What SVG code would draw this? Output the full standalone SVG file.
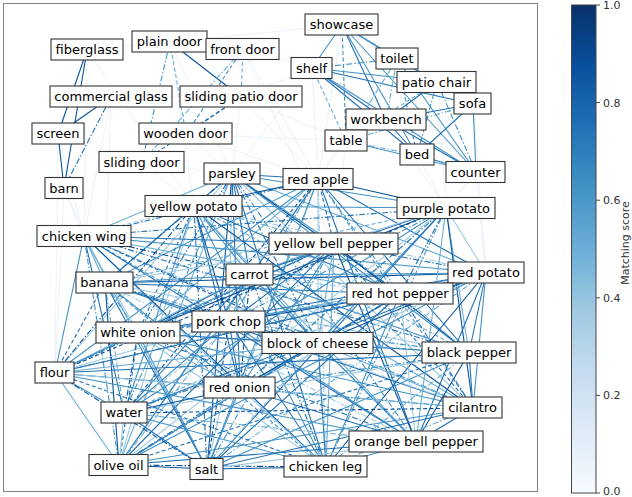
<svg xmlns="http://www.w3.org/2000/svg" width="632" height="497" viewBox="0 0 632 497">
<style>
.cn line{fill:none;stroke-width:1.1}
.a{stroke:#9ecae1}.b{stroke:#6baed6}.c{stroke:#4292c6}.d{stroke:#2171b5}.e{stroke:#08519c}
.dd{stroke-dasharray:6 2 1.5 2}.ds{stroke-dasharray:4 2.5}
.cn line.f{stroke:#c6dbef;stroke-width:.8;opacity:.45}
.nd rect{fill:#fff;stroke:#333;stroke-width:1.1}
.nd text{font-family:"DejaVu Sans",sans-serif;font-size:13px;fill:#000;text-anchor:middle}
.tk{font-family:"DejaVu Sans",sans-serif;font-size:11px;fill:#333}
</style>
<defs>
<linearGradient id="cb" x1="0" y1="1" x2="0" y2="0">
<stop offset="0" stop-color="#f7fbff"/><stop offset=".125" stop-color="#deebf7"/><stop offset=".25" stop-color="#c6dbef"/><stop offset=".375" stop-color="#9ecae1"/><stop offset=".5" stop-color="#6baed6"/><stop offset=".625" stop-color="#4292c6"/><stop offset=".75" stop-color="#2171b5"/><stop offset=".875" stop-color="#08519c"/><stop offset="1" stop-color="#08306b"/>
</linearGradient>
</defs>
<rect x="0" y="0" width="632" height="497" fill="#fff"/>
<rect x="3.5" y="3.5" width="534" height="488" fill="none" stroke="#808080" stroke-width="1"/>
<g id="connectors" class="cn">
<line class="f" x1="87" y1="50" x2="84" y2="236"/><line class="f" x1="87" y1="50" x2="194" y2="206"/><line class="f" x1="111" y1="97" x2="84" y2="236"/><line class="f" x1="111" y1="97" x2="105" y2="283"/><line class="f" x1="58" y1="134" x2="84" y2="236"/><line class="f" x1="58" y1="134" x2="55" y2="373"/><line class="f" x1="64" y1="188" x2="84" y2="236"/><line class="f" x1="64" y1="188" x2="105" y2="283"/><line class="f" x1="64" y1="188" x2="55" y2="373"/><line class="f" x1="142" y1="162" x2="194" y2="206"/><line class="f" x1="142" y1="162" x2="232" y2="174"/><line class="f" x1="186" y1="134" x2="232" y2="174"/><line class="f" x1="186" y1="134" x2="318" y2="179"/><line class="f" x1="241" y1="97" x2="318" y2="179"/><line class="f" x1="241" y1="97" x2="232" y2="174"/><line class="f" x1="243" y1="49" x2="318" y2="179"/><line class="f" x1="243" y1="49" x2="334" y2="244"/><line class="f" x1="170" y1="42" x2="194" y2="206"/><line class="f" x1="170" y1="42" x2="232" y2="174"/><line class="f" x1="342" y1="25" x2="318" y2="179"/><line class="f" x1="312" y1="68" x2="318" y2="179"/><line class="f" x1="312" y1="68" x2="232" y2="174"/><line class="f" x1="346" y1="141" x2="318" y2="179"/><line class="f" x1="346" y1="141" x2="334" y2="244"/><line class="f" x1="386" y1="120" x2="446" y2="208"/><line class="f" x1="417" y1="155" x2="446" y2="208"/><line class="f" x1="476" y1="172" x2="446" y2="208"/><line class="f" x1="476" y1="172" x2="486" y2="273"/><line class="f" x1="473" y1="104" x2="486" y2="273"/><line class="f" x1="437" y1="82" x2="446" y2="208"/><line class="f" x1="397" y1="59" x2="318" y2="179"/><line class="f" x1="243" y1="49" x2="312" y2="68"/><line class="f" x1="170" y1="42" x2="342" y2="25"/><line class="f" x1="241" y1="97" x2="346" y2="141"/><line class="f" x1="241" y1="97" x2="312" y2="68"/><line class="f" x1="87" y1="50" x2="170" y2="42"/><line class="f" x1="111" y1="97" x2="241" y2="97"/><line class="f" x1="186" y1="134" x2="346" y2="141"/>
<line class="e" x1="87" y1="50" x2="58" y2="134"/><line class="e" x1="87" y1="50" x2="64" y2="188"/><line class="e" x1="111" y1="97" x2="58" y2="134"/><line class="d dd" x1="111" y1="97" x2="64" y2="188"/><line class="e" x1="58" y1="134" x2="64" y2="188"/><line class="c dd" x1="170" y1="42" x2="142" y2="162"/><line class="e" x1="170" y1="42" x2="241" y2="97"/><line class="b ds" x1="170" y1="42" x2="186" y2="134"/><line class="c ds" x1="243" y1="49" x2="186" y2="134"/><line class="b dd" x1="243" y1="49" x2="142" y2="162"/><line class="b ds" x1="243" y1="49" x2="241" y2="97"/><line class="d ds" x1="241" y1="97" x2="186" y2="134"/><line class="d ds" x1="241" y1="97" x2="142" y2="162"/>
<line class="c" x1="342" y1="25" x2="312" y2="68"/><line class="c" x1="342" y1="25" x2="397" y2="59"/><line class="b dd" x1="342" y1="25" x2="437" y2="82"/><line class="c" x1="342" y1="25" x2="473" y2="104"/><line class="d" x1="342" y1="25" x2="386" y2="120"/><line class="c ds" x1="342" y1="25" x2="346" y2="141"/><line class="c" x1="342" y1="25" x2="417" y2="155"/><line class="c" x1="342" y1="25" x2="476" y2="172"/>
<line class="c dd" x1="312" y1="68" x2="397" y2="59"/><line class="c" x1="312" y1="68" x2="437" y2="82"/><line class="d" x1="312" y1="68" x2="473" y2="104"/><line class="d" x1="312" y1="68" x2="386" y2="120"/><line class="b ds" x1="312" y1="68" x2="346" y2="141"/><line class="d" x1="312" y1="68" x2="417" y2="155"/><line class="c" x1="312" y1="68" x2="476" y2="172"/>
<line class="c" x1="397" y1="59" x2="437" y2="82"/><line class="c dd" x1="397" y1="59" x2="473" y2="104"/><line class="b dd" x1="397" y1="59" x2="386" y2="120"/><line class="b dd" x1="397" y1="59" x2="346" y2="141"/><line class="c ds" x1="397" y1="59" x2="417" y2="155"/><line class="c" x1="397" y1="59" x2="476" y2="172"/>
<line class="c" x1="437" y1="82" x2="473" y2="104"/><line class="d" x1="437" y1="82" x2="386" y2="120"/><line class="b ds" x1="437" y1="82" x2="346" y2="141"/><line class="c dd" x1="437" y1="82" x2="417" y2="155"/><line class="c dd" x1="437" y1="82" x2="476" y2="172"/>
<line class="d" x1="473" y1="104" x2="386" y2="120"/><line class="b dd" x1="473" y1="104" x2="346" y2="141"/><line class="d" x1="473" y1="104" x2="417" y2="155"/><line class="c" x1="473" y1="104" x2="476" y2="172"/>
<line class="c dd" x1="386" y1="120" x2="346" y2="141"/><line class="d" x1="386" y1="120" x2="417" y2="155"/><line class="d" x1="386" y1="120" x2="476" y2="172"/>
<line class="b dd" x1="346" y1="141" x2="417" y2="155"/><line class="c" x1="346" y1="141" x2="476" y2="172"/><line class="d" x1="417" y1="155" x2="476" y2="172"/>
<line class="d" x1="232" y1="174" x2="318" y2="179"/><line class="c" x1="232" y1="174" x2="194" y2="206"/><line class="b" x1="232" y1="174" x2="84" y2="236"/><line class="e dd" x1="232" y1="174" x2="105" y2="283"/><line class="d" x1="232" y1="174" x2="250" y2="275"/><line class="c" x1="232" y1="174" x2="334" y2="244"/><line class="a" x1="232" y1="174" x2="229" y2="322"/><line class="d dd" x1="232" y1="174" x2="138" y2="333"/><line class="c" x1="232" y1="174" x2="446" y2="208"/><line class="b" x1="232" y1="174" x2="486" y2="273"/><line class="e" x1="232" y1="174" x2="400" y2="294"/><line class="d dd" x1="232" y1="174" x2="318" y2="343"/><line class="c" x1="232" y1="174" x2="469" y2="353"/><line class="a" x1="232" y1="174" x2="55" y2="373"/><line class="d" x1="232" y1="174" x2="240" y2="388"/><line class="c dd" x1="232" y1="174" x2="124" y2="413"/><line class="b" x1="232" y1="174" x2="119" y2="465"/><line class="e" x1="232" y1="174" x2="207" y2="469"/><line class="d" x1="232" y1="174" x2="326" y2="467"/><line class="c dd" x1="232" y1="174" x2="416" y2="442"/><line class="a" x1="232" y1="174" x2="473" y2="408"/>
<line class="e" x1="318" y1="179" x2="194" y2="206"/><line class="d dd" x1="318" y1="179" x2="84" y2="236"/><line class="c" x1="318" y1="179" x2="105" y2="283"/><line class="a" x1="318" y1="179" x2="250" y2="275"/><line class="d ds" x1="318" y1="179" x2="334" y2="244"/><line class="c dd" x1="318" y1="179" x2="229" y2="322"/><line class="b" x1="318" y1="179" x2="138" y2="333"/><line class="e" x1="318" y1="179" x2="446" y2="208"/><line class="d" x1="318" y1="179" x2="486" y2="273"/><line class="c dd" x1="318" y1="179" x2="400" y2="294"/><line class="a" x1="318" y1="179" x2="318" y2="343"/><line class="d" x1="318" y1="179" x2="469" y2="353"/><line class="c" x1="318" y1="179" x2="55" y2="373"/><line class="b dd" x1="318" y1="179" x2="240" y2="388"/><line class="e ds" x1="318" y1="179" x2="124" y2="413"/><line class="d" x1="318" y1="179" x2="119" y2="465"/><line class="c" x1="318" y1="179" x2="207" y2="469"/><line class="a dd" x1="318" y1="179" x2="326" y2="467"/><line class="d" x1="318" y1="179" x2="416" y2="442"/><line class="c ds" x1="318" y1="179" x2="473" y2="408"/>
<line class="a ds" x1="194" y1="206" x2="84" y2="236"/><line class="d" x1="194" y1="206" x2="105" y2="283"/><line class="c" x1="194" y1="206" x2="250" y2="275"/><line class="b dd" x1="194" y1="206" x2="334" y2="244"/><line class="e" x1="194" y1="206" x2="229" y2="322"/><line class="d ds" x1="194" y1="206" x2="138" y2="333"/><line class="c" x1="194" y1="206" x2="446" y2="208"/><line class="a dd" x1="194" y1="206" x2="486" y2="273"/><line class="d" x1="194" y1="206" x2="400" y2="294"/><line class="c" x1="194" y1="206" x2="318" y2="343"/><line class="b ds" x1="194" y1="206" x2="469" y2="353"/><line class="e dd" x1="194" y1="206" x2="55" y2="373"/><line class="d" x1="194" y1="206" x2="240" y2="388"/><line class="c" x1="194" y1="206" x2="124" y2="413"/><line class="a" x1="194" y1="206" x2="119" y2="465"/><line class="d dd" x1="194" y1="206" x2="207" y2="469"/><line class="c" x1="194" y1="206" x2="326" y2="467"/><line class="b" x1="194" y1="206" x2="416" y2="442"/><line class="e" x1="194" y1="206" x2="473" y2="408"/>
<line class="b" x1="84" y1="236" x2="105" y2="283"/><line class="e dd" x1="84" y1="236" x2="250" y2="275"/><line class="d" x1="84" y1="236" x2="334" y2="244"/><line class="c ds" x1="84" y1="236" x2="229" y2="322"/><line class="a" x1="84" y1="236" x2="138" y2="333"/><line class="d dd" x1="84" y1="236" x2="446" y2="208"/><line class="c" x1="84" y1="236" x2="486" y2="273"/><line class="b" x1="84" y1="236" x2="400" y2="294"/><line class="e ds" x1="84" y1="236" x2="318" y2="343"/><line class="d dd" x1="84" y1="236" x2="469" y2="353"/><line class="c" x1="84" y1="236" x2="55" y2="373"/><line class="a" x1="84" y1="236" x2="240" y2="388"/><line class="d" x1="84" y1="236" x2="124" y2="413"/><line class="c dd" x1="84" y1="236" x2="119" y2="465"/><line class="b" x1="84" y1="236" x2="207" y2="469"/><line class="e" x1="84" y1="236" x2="326" y2="467"/><line class="d" x1="84" y1="236" x2="416" y2="442"/><line class="c dd" x1="84" y1="236" x2="473" y2="408"/>
<line class="c" x1="105" y1="283" x2="250" y2="275"/><line class="a" x1="105" y1="283" x2="334" y2="244"/><line class="d" x1="105" y1="283" x2="229" y2="322"/><line class="c dd" x1="105" y1="283" x2="138" y2="333"/><line class="b ds" x1="105" y1="283" x2="446" y2="208"/><line class="e" x1="105" y1="283" x2="486" y2="273"/><line class="d" x1="105" y1="283" x2="400" y2="294"/><line class="c dd" x1="105" y1="283" x2="318" y2="343"/><line class="a" x1="105" y1="283" x2="469" y2="353"/><line class="d ds" x1="105" y1="283" x2="55" y2="373"/><line class="c" x1="105" y1="283" x2="240" y2="388"/><line class="b dd" x1="105" y1="283" x2="124" y2="413"/><line class="e" x1="105" y1="283" x2="119" y2="465"/><line class="d" x1="105" y1="283" x2="207" y2="469"/><line class="c ds" x1="105" y1="283" x2="326" y2="467"/><line class="a dd" x1="105" y1="283" x2="416" y2="442"/><line class="d" x1="105" y1="283" x2="473" y2="408"/>
<line class="c" x1="250" y1="275" x2="334" y2="244"/><line class="b dd" x1="250" y1="275" x2="229" y2="322"/><line class="e" x1="250" y1="275" x2="138" y2="333"/><line class="d" x1="250" y1="275" x2="446" y2="208"/><line class="c" x1="250" y1="275" x2="486" y2="273"/><line class="a dd" x1="250" y1="275" x2="400" y2="294"/><line class="d" x1="250" y1="275" x2="318" y2="343"/><line class="c" x1="250" y1="275" x2="469" y2="353"/><line class="b" x1="250" y1="275" x2="55" y2="373"/><line class="e dd" x1="250" y1="275" x2="240" y2="388"/><line class="d" x1="250" y1="275" x2="124" y2="413"/><line class="c" x1="250" y1="275" x2="119" y2="465"/><line class="a" x1="250" y1="275" x2="207" y2="469"/><line class="d dd" x1="250" y1="275" x2="326" y2="467"/><line class="c" x1="250" y1="275" x2="416" y2="442"/><line class="b" x1="250" y1="275" x2="473" y2="408"/>
<line class="d" x1="334" y1="244" x2="229" y2="322"/><line class="c" x1="334" y1="244" x2="138" y2="333"/><line class="a" x1="334" y1="244" x2="446" y2="208"/><line class="d dd" x1="334" y1="244" x2="486" y2="273"/><line class="c ds" x1="334" y1="244" x2="400" y2="294"/><line class="b" x1="334" y1="244" x2="318" y2="343"/><line class="e" x1="334" y1="244" x2="469" y2="353"/><line class="d dd" x1="334" y1="244" x2="55" y2="373"/><line class="c" x1="334" y1="244" x2="240" y2="388"/><line class="a ds" x1="334" y1="244" x2="124" y2="413"/><line class="d" x1="334" y1="244" x2="119" y2="465"/><line class="c dd" x1="334" y1="244" x2="207" y2="469"/><line class="b" x1="334" y1="244" x2="326" y2="467"/><line class="e" x1="334" y1="244" x2="416" y2="442"/><line class="d ds" x1="334" y1="244" x2="473" y2="408"/>
<line class="d ds" x1="229" y1="322" x2="138" y2="333"/><line class="c dd" x1="229" y1="322" x2="446" y2="208"/><line class="b" x1="229" y1="322" x2="486" y2="273"/><line class="e" x1="229" y1="322" x2="400" y2="294"/><line class="d" x1="229" y1="322" x2="318" y2="343"/><line class="c dd" x1="229" y1="322" x2="469" y2="353"/><line class="a" x1="229" y1="322" x2="55" y2="373"/><line class="d" x1="229" y1="322" x2="240" y2="388"/><line class="c" x1="229" y1="322" x2="124" y2="413"/><line class="b dd" x1="229" y1="322" x2="119" y2="465"/><line class="e ds" x1="229" y1="322" x2="207" y2="469"/><line class="d" x1="229" y1="322" x2="326" y2="467"/><line class="c" x1="229" y1="322" x2="416" y2="442"/><line class="a dd" x1="229" y1="322" x2="473" y2="408"/>
<line class="e" x1="138" y1="333" x2="446" y2="208"/><line class="d" x1="138" y1="333" x2="486" y2="273"/><line class="c" x1="138" y1="333" x2="400" y2="294"/><line class="a dd" x1="138" y1="333" x2="318" y2="343"/><line class="d" x1="138" y1="333" x2="469" y2="353"/><line class="c" x1="138" y1="333" x2="55" y2="373"/><line class="b" x1="138" y1="333" x2="240" y2="388"/><line class="e dd" x1="138" y1="333" x2="124" y2="413"/><line class="d ds" x1="138" y1="333" x2="119" y2="465"/><line class="c" x1="138" y1="333" x2="207" y2="469"/><line class="a" x1="138" y1="333" x2="326" y2="467"/><line class="d dd" x1="138" y1="333" x2="416" y2="442"/><line class="c" x1="138" y1="333" x2="473" y2="408"/>
<line class="a" x1="446" y1="208" x2="486" y2="273"/><line class="d dd" x1="446" y1="208" x2="400" y2="294"/><line class="c" x1="446" y1="208" x2="318" y2="343"/><line class="b" x1="446" y1="208" x2="469" y2="353"/><line class="e ds" x1="446" y1="208" x2="55" y2="373"/><line class="d dd" x1="446" y1="208" x2="240" y2="388"/><line class="c" x1="446" y1="208" x2="124" y2="413"/><line class="a" x1="446" y1="208" x2="119" y2="465"/><line class="d" x1="446" y1="208" x2="207" y2="469"/><line class="c dd" x1="446" y1="208" x2="326" y2="467"/><line class="b" x1="446" y1="208" x2="416" y2="442"/><line class="e" x1="446" y1="208" x2="473" y2="408"/>
<line class="b" x1="486" y1="273" x2="400" y2="294"/><line class="e" x1="486" y1="273" x2="318" y2="343"/><line class="d" x1="486" y1="273" x2="469" y2="353"/><line class="c dd" x1="486" y1="273" x2="55" y2="373"/><line class="a" x1="486" y1="273" x2="240" y2="388"/><line class="d" x1="486" y1="273" x2="124" y2="413"/><line class="c" x1="486" y1="273" x2="119" y2="465"/><line class="b dd" x1="486" y1="273" x2="207" y2="469"/><line class="e" x1="486" y1="273" x2="326" y2="467"/><line class="d" x1="486" y1="273" x2="416" y2="442"/><line class="c" x1="486" y1="273" x2="473" y2="408"/>
<line class="c" x1="400" y1="294" x2="318" y2="343"/><line class="a dd" x1="400" y1="294" x2="469" y2="353"/><line class="d" x1="400" y1="294" x2="55" y2="373"/><line class="c" x1="400" y1="294" x2="240" y2="388"/><line class="b ds" x1="400" y1="294" x2="124" y2="413"/><line class="e dd" x1="400" y1="294" x2="119" y2="465"/><line class="d" x1="400" y1="294" x2="207" y2="469"/><line class="c" x1="400" y1="294" x2="326" y2="467"/><line class="a" x1="400" y1="294" x2="416" y2="442"/><line class="d dd" x1="400" y1="294" x2="473" y2="408"/>
<line class="c ds" x1="318" y1="343" x2="469" y2="353"/><line class="b" x1="318" y1="343" x2="55" y2="373"/><line class="e" x1="318" y1="343" x2="240" y2="388"/><line class="d dd" x1="318" y1="343" x2="124" y2="413"/><line class="c" x1="318" y1="343" x2="119" y2="465"/><line class="a ds" x1="318" y1="343" x2="207" y2="469"/><line class="d" x1="318" y1="343" x2="326" y2="467"/><line class="c dd" x1="318" y1="343" x2="416" y2="442"/><line class="b" x1="318" y1="343" x2="473" y2="408"/>
<line class="d" x1="469" y1="353" x2="55" y2="373"/><line class="c dd" x1="469" y1="353" x2="240" y2="388"/><line class="a" x1="469" y1="353" x2="124" y2="413"/><line class="d ds" x1="469" y1="353" x2="119" y2="465"/><line class="c" x1="469" y1="353" x2="207" y2="469"/><line class="b dd" x1="469" y1="353" x2="326" y2="467"/><line class="e" x1="469" y1="353" x2="416" y2="442"/><line class="d" x1="469" y1="353" x2="473" y2="408"/>
<line class="d" x1="55" y1="373" x2="240" y2="388"/><line class="c" x1="55" y1="373" x2="124" y2="413"/><line class="b" x1="55" y1="373" x2="119" y2="465"/><line class="e dd" x1="55" y1="373" x2="207" y2="469"/><line class="d ds" x1="55" y1="373" x2="326" y2="467"/><line class="c" x1="55" y1="373" x2="416" y2="442"/><line class="a" x1="55" y1="373" x2="473" y2="408"/>
<line class="e" x1="240" y1="388" x2="124" y2="413"/><line class="d dd" x1="240" y1="388" x2="119" y2="465"/><line class="c" x1="240" y1="388" x2="207" y2="469"/><line class="a" x1="240" y1="388" x2="326" y2="467"/><line class="d" x1="240" y1="388" x2="416" y2="442"/><line class="c dd" x1="240" y1="388" x2="473" y2="408"/>
<line class="a" x1="124" y1="413" x2="119" y2="465"/><line class="d" x1="124" y1="413" x2="207" y2="469"/><line class="c" x1="124" y1="413" x2="326" y2="467"/><line class="b dd" x1="124" y1="413" x2="416" y2="442"/><line class="e ds" x1="124" y1="413" x2="473" y2="408"/>
<line class="e" x1="119" y1="465" x2="207" y2="469"/><line class="e dd" x1="119" y1="465" x2="326" y2="467"/><line class="d" x1="119" y1="465" x2="416" y2="442"/><line class="c" x1="119" y1="465" x2="473" y2="408"/>
<line class="e" x1="207" y1="469" x2="326" y2="467"/><line class="a" x1="207" y1="469" x2="416" y2="442"/><line class="d" x1="207" y1="469" x2="473" y2="408"/>
<line class="c" x1="326" y1="467" x2="416" y2="442"/><line class="b dd" x1="326" y1="467" x2="473" y2="408"/><line class="d" x1="416" y1="442" x2="473" y2="408"/>
</g>
<g class="nd">
<g id="n-fiberglass"><rect x="51" y="39" width="72" height="21"/><text x="87" y="54">fiberglass</text></g>
<g id="n-plain-door"><rect x="132" y="31" width="75" height="21"/><text x="169.5" y="46">plain door</text></g>
<g id="n-front-door"><rect x="206" y="38.5" width="73" height="21"/><text x="242.5" y="53.5">front door</text></g>
<g id="n-commercial-glass"><rect x="50" y="86" width="122" height="21"/><text x="111" y="101">commercial glass</text></g>
<g id="n-sliding-patio-door"><rect x="180" y="86" width="122" height="21"/><text x="241" y="101">sliding patio door</text></g>
<g id="n-screen"><rect x="32" y="123" width="52" height="21"/><text x="58" y="138">screen</text></g>
<g id="n-wooden-door"><rect x="139" y="123" width="93" height="21"/><text x="185.5" y="138">wooden door</text></g>
<g id="n-sliding-door"><rect x="99" y="151.5" width="85" height="21"/><text x="141.5" y="166.5">sliding door</text></g>
<g id="n-barn"><rect x="45" y="177.5" width="38" height="21"/><text x="64" y="192.5">barn</text></g>
<g id="n-parsley"><rect x="204" y="163" width="56" height="21"/><text x="232" y="178">parsley</text></g>
<g id="n-showcase"><rect x="305" y="14" width="73" height="21"/><text x="341.5" y="29">showcase</text></g>
<g id="n-shelf"><rect x="291" y="57.5" width="41" height="21"/><text x="311.5" y="72.5">shelf</text></g>
<g id="n-toilet"><rect x="376" y="48" width="42" height="21"/><text x="397" y="63">toilet</text></g>
<g id="n-patio-chair"><rect x="397" y="71.5" width="79" height="21"/><text x="436.5" y="86.5">patio chair</text></g>
<g id="n-sofa"><rect x="454" y="93" width="37" height="21"/><text x="472.5" y="108">sofa</text></g>
<g id="n-workbench"><rect x="346" y="109" width="80" height="21"/><text x="386" y="124">workbench</text></g>
<g id="n-table"><rect x="325" y="130" width="42" height="21"/><text x="346" y="145">table</text></g>
<g id="n-bed"><rect x="400" y="144" width="34" height="21"/><text x="417" y="159">bed</text></g>
<g id="n-counter"><rect x="446" y="161.5" width="59" height="21"/><text x="475.5" y="176.5">counter</text></g>
<g id="n-red-apple"><rect x="283" y="168.5" width="70" height="21"/><text x="318" y="183.5">red apple</text></g>
<g id="n-yellow-potato"><rect x="145" y="195.5" width="97" height="21"/><text x="193.5" y="210.5">yellow potato</text></g>
<g id="n-chicken-wing"><rect x="37" y="225.5" width="94" height="21"/><text x="84" y="240.5">chicken wing</text></g>
<g id="n-banana"><rect x="76" y="272" width="57" height="21"/><text x="104.5" y="287">banana</text></g>
<g id="n-carrot"><rect x="226" y="264" width="47" height="21"/><text x="249.5" y="279">carrot</text></g>
<g id="n-yellow-bell-pepper"><rect x="269" y="233" width="129" height="21"/><text x="333.5" y="248">yellow bell pepper</text></g>
<g id="n-pork-chop"><rect x="192" y="311" width="73" height="21"/><text x="228.5" y="326">pork chop</text></g>
<g id="n-white-onion"><rect x="96" y="322" width="84" height="21"/><text x="138" y="337">white onion</text></g>
<g id="n-purple-potato"><rect x="397" y="197.5" width="98" height="21"/><text x="446" y="212.5">purple potato</text></g>
<g id="n-red-potato"><rect x="448" y="262" width="76" height="21"/><text x="486" y="277">red potato</text></g>
<g id="n-red-hot-pepper"><rect x="347" y="283" width="106" height="21"/><text x="400" y="298">red hot pepper</text></g>
<g id="n-block-of-cheese"><rect x="262" y="332.5" width="111" height="21"/><text x="317.5" y="347.5">block of cheese</text></g>
<g id="n-black-pepper"><rect x="422" y="342" width="94" height="21"/><text x="469" y="357">black pepper</text></g>
<g id="n-flour"><rect x="35" y="362" width="39" height="21"/><text x="54.5" y="377">flour</text></g>
<g id="n-red-onion"><rect x="204" y="377" width="71" height="21"/><text x="239.5" y="392">red onion</text></g>
<g id="n-water"><rect x="101" y="402" width="46" height="21"/><text x="124" y="417">water</text></g>
<g id="n-olive-oil"><rect x="89" y="454.5" width="59" height="21"/><text x="118.5" y="469.5">olive oil</text></g>
<g id="n-salt"><rect x="190" y="458.5" width="33" height="21"/><text x="206.5" y="473.5">salt</text></g>
<g id="n-chicken-leg"><rect x="284" y="456" width="83" height="21"/><text x="325.5" y="471">chicken leg</text></g>
<g id="n-orange-bell-pepper"><rect x="349" y="431" width="134" height="21"/><text x="416" y="446">orange bell pepper</text></g>
<g id="n-cilantro"><rect x="443" y="397" width="59" height="21"/><text x="472.5" y="412">cilantro</text></g>
</g>
<g id="colorbar">
<rect x="571.5" y="5" width="24.5" height="488" fill="url(#cb)" stroke="#444" stroke-width="1"/>
<g stroke="#444" stroke-width="1">
<line x1="596" y1="5" x2="600" y2="5"/><line x1="596" y1="102.6" x2="600" y2="102.6"/><line x1="596" y1="200.2" x2="600" y2="200.2"/><line x1="596" y1="297.8" x2="600" y2="297.8"/><line x1="596" y1="395.4" x2="600" y2="395.4"/><line x1="596" y1="493" x2="600" y2="493"/>
</g>
<text class="tk" x="603" y="9">1.0</text>
<text class="tk" x="603" y="106.6">0.8</text>
<text class="tk" x="603" y="204.2">0.6</text>
<text class="tk" x="603" y="301.8">0.4</text>
<text class="tk" x="603" y="399.4">0.2</text>
<text class="tk" x="603" y="495">0.0</text>
<text class="tk" font-size="10.5" transform="translate(629 243) rotate(-90)" text-anchor="middle">Matching score</text>
</g>
</svg>
